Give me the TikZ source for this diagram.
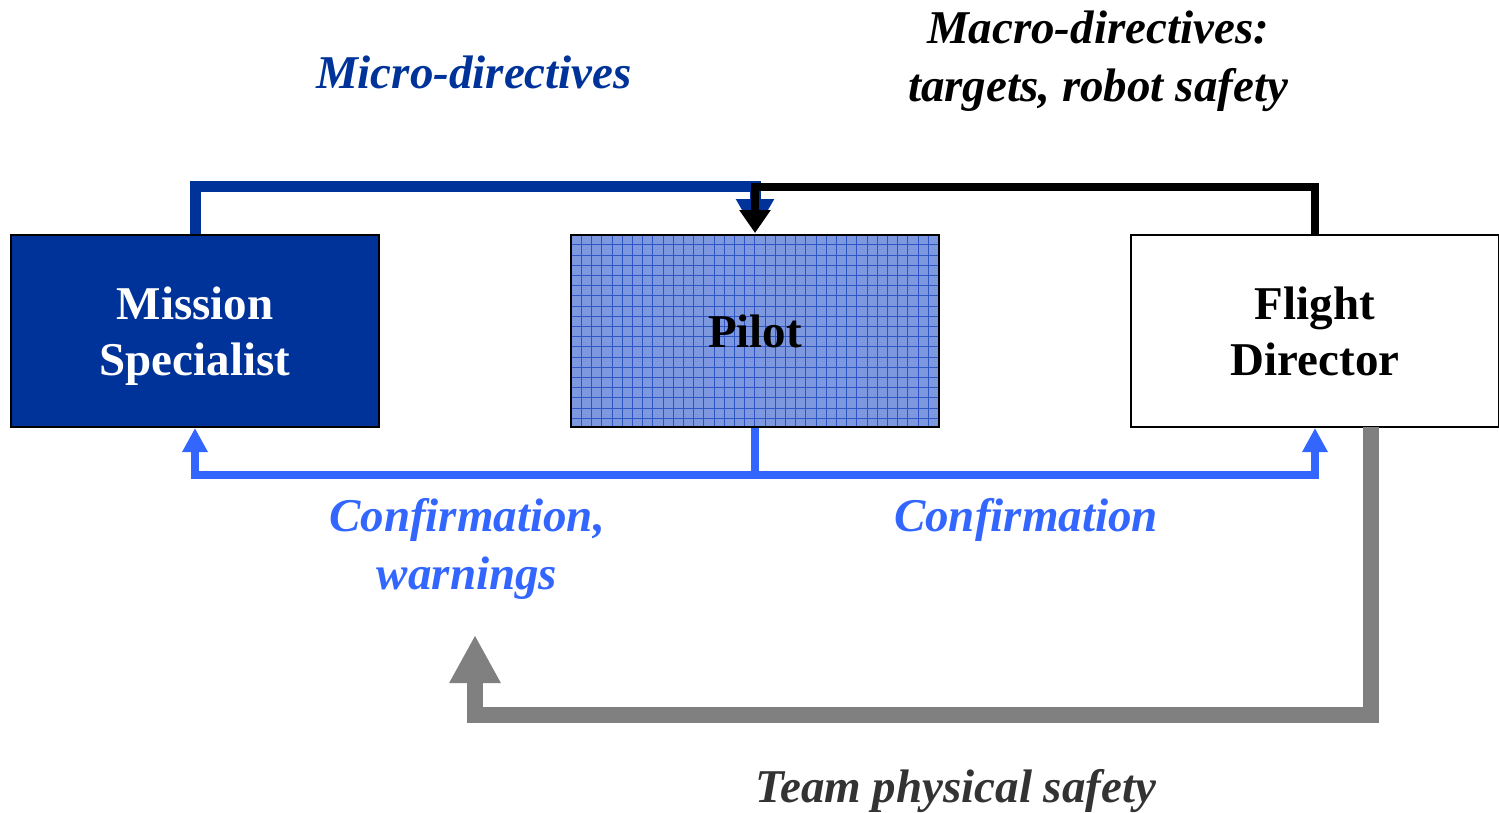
\documentclass[tikz,border=0pt]{standalone}
\usepackage{fontspec}
\setmainfont{Liberation Serif}
\usetikzlibrary{arrows.meta}
\definecolor{darkblue}{HTML}{003399}
\definecolor{lightblue}{HTML}{3366FF}
\definecolor{gridfill}{RGB}{125,152,222}
\definecolor{gridline}{RGB}{45,85,195}
\definecolor{graycol}{HTML}{808080}
\tikzset{
  box/.style={draw=black, line width=2pt, minimum width=368pt, minimum height=192pt, inner sep=0pt},
  boxtext/.style={align=center, inner sep=0pt, font=\fontsize{47}{56}\selectfont\bfseries},
  lbl/.style={align=center, font=\fontsize{47}{58}\selectfont\bfseries\itshape, inner sep=0pt},
  msline/.style={draw=darkblue, line width=11pt},
  fdline/.style={draw=black, line width=8pt},
  cfline/.style={draw=lightblue, line width=8pt},
  gyline/.style={draw=graycol, line width=16pt},
}
\begin{document}
\begin{tikzpicture}[x=1pt,y=-1pt]
\useasboundingbox (0,0) rectangle (1499,812);
% boxes
\node[box, fill=darkblue] (ms) at (195,331) {};
\node[boxtext, text=white] (mstext) at (195,336.5) {\strut Mission\\Specialist\strut};
\node[box, fill=gridfill] (pilot) at (755,331) {};
\begin{scope}
\clip (571,235) rectangle (939,427);
\draw[gridline, line width=0.9pt, step=10.2pt] (571,235) grid (940,428);
\end{scope}
\node[draw=black, line width=2pt, minimum width=368pt, minimum height=192pt] (pilotframe) at (755,331) {};
\node[boxtext] (pilottext) at (755,331) {Pilot};
\node[box, fill=white] (fd) at (1315,331) {};
\node[boxtext] (fdtext) at (1315,336.5) {\strut Flight\\Director\strut};
% micro-directives (blue)
\coordinate (m1) at (195,186);
\coordinate (m2) at (755,186);
\coordinate (ptop) at (755,233);
\draw[msline, -{Triangle[width=36pt,length=34pt]}, line join=miter] (ms.north) -- (m1) -- (m2) -- (ptop);
% macro-directives (black)
\coordinate (f1) at (1315,187);
\coordinate (f2) at (755,187);
\draw[fdline, -{Triangle[width=30pt,length=23pt]}, line join=miter] (fd.north) -- (f1) -- (f2) -- (ptop);
% confirmation (light blue)
\coordinate (j) at (755,475);
\draw[cfline] (pilot.south) -- (j);
\draw[cfline, -{Triangle[width=24pt,length=24pt]}, line join=miter] (j) -| (ms.south);
\draw[cfline, -{Triangle[width=24pt,length=24pt]}, line join=miter] (j) -| (fd.south);
% team physical safety (gray)
\coordinate (g0) at (1371,427);
\coordinate (g1) at (1371,715);
\coordinate (g2) at (475,715);
\coordinate (g3) at (475,635);
\draw[gyline, -{Triangle[width=48pt,length=48pt]}, line join=miter] (g0) -- (g1) -- (g2) -- (g3);
% labels
\node[lbl, text=darkblue] (lmicro) at (474,72) {Micro-directives};
\node[lbl, text=black] (lmacro) at (1098,61) {Macro-directives:\\targets, robot safety};
\node[lbl, text=lightblue] (lcw) at (467,549) {Confirmation,\\warnings};
\node[lbl, text=lightblue] (lconf) at (1026,520) {Confirmation};
\node[lbl, text=black!80] (lteam) at (956,791) {Team physical safety};
\end{tikzpicture}
\end{document}
